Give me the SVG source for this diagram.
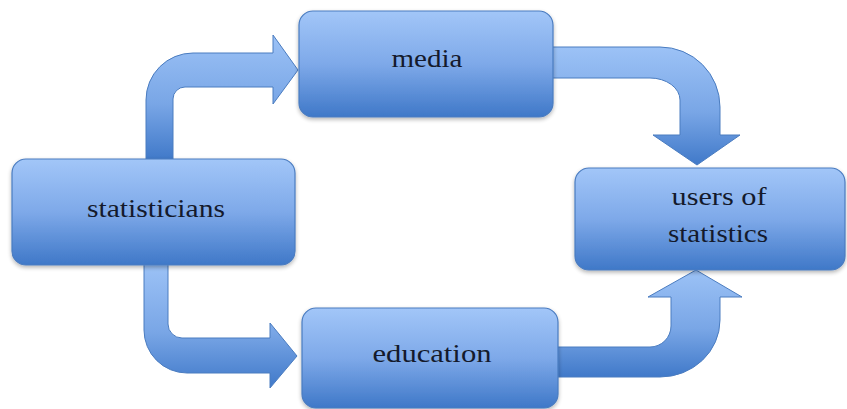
<svg xmlns="http://www.w3.org/2000/svg" width="847" height="409" viewBox="0 0 847 409">
  <defs>
    <linearGradient id="boxFill" x1="0" y1="0" x2="0" y2="1">
      <stop offset="0" stop-color="#a2c6f8"/>
      <stop offset="0.5" stop-color="#7ea9e9"/>
      <stop offset="1" stop-color="#3f78c8"/>
    </linearGradient>
    <linearGradient id="arrowFill" x1="0" y1="0" x2="0" y2="1">
      <stop offset="0" stop-color="#9cc2f6"/>
      <stop offset="0.55" stop-color="#79a6e6"/>
      <stop offset="1" stop-color="#4079c9"/>
    </linearGradient>
    <filter id="shadow" x="-5%" y="-5%" width="110%" height="120%">
      <feGaussianBlur in="SourceAlpha" stdDeviation="2"/>
      <feOffset dy="2"/>
      <feComponentTransfer><feFuncA type="linear" slope="0.3"/></feComponentTransfer>
      <feMerge><feMergeNode/><feMergeNode in="SourceGraphic"/></feMerge>
    </filter>
  </defs>
  <style>
    .box { fill: url(#boxFill); stroke: #4a7cc0; stroke-width: 1.2; filter: url(#shadow); }
    .arrow { fill: url(#arrowFill); stroke: #4a7cc0; stroke-width: 1; }
    .label { font-family: "Liberation Serif", "Times New Roman", serif; font-size: 26px; fill: #141a2c; text-anchor: middle; }
  </style>

  <g id="connectors">
    <!-- statisticians to media -->
    <path class="arrow" d="M146,160 L146,100 A47,47 0 0 1 193,53 L273,53 L273,35 L298,70 L273,104 L273,87 L185,87 A12,12 0 0 0 173,99 L173,160 Z"/>
    <!-- media to users of statistics -->
    <path class="arrow" d="M552,47 L660,47 A60,60 0 0 1 720,107 L720,135 L740,135 L697,165 L653,135 L680,135 L680,100 A30,22 0 0 0 650,78 L552,78 Z"/>
    <!-- statisticians to education -->
    <path class="arrow" d="M144,264 L144,330 A43,43 0 0 0 187,373 L270,373 L270,388 L297,356 L270,323 L270,338 L182,338 A14,14 0 0 1 168,324 L168,264 Z"/>
    <!-- education to users of statistics -->
    <path class="arrow" d="M557,347 L650,347 A21,21 0 0 0 671,326 L671,297 L648,297 L696,270 L742,297 L720,297 L720,320 A60,57 0 0 1 660,377 L557,377 Z"/>
  </g>

  <g id="statisticians">
    <rect class="box" x="12" y="159" width="283" height="106" rx="14"/>
    <text class="label" x="156" y="217" textLength="138" lengthAdjust="spacingAndGlyphs">statisticians</text>
  </g>

  <g id="media">
    <rect class="box" x="299" y="11" width="254" height="106" rx="14"/>
    <text class="label" x="427" y="67" textLength="71" lengthAdjust="spacingAndGlyphs">media</text>
  </g>

  <g id="users">
    <rect class="box" x="575" y="168" width="270" height="102" rx="14"/>
    <text class="label" x="719" y="205" textLength="95" lengthAdjust="spacingAndGlyphs">users of</text>
    <text class="label" x="718" y="242" textLength="100" lengthAdjust="spacingAndGlyphs">statistics</text>
  </g>

  <g id="education">
    <rect class="box" x="302" y="308" width="256" height="100" rx="14"/>
    <text class="label" x="432" y="362" textLength="119" lengthAdjust="spacingAndGlyphs">education</text>
  </g>
</svg>
